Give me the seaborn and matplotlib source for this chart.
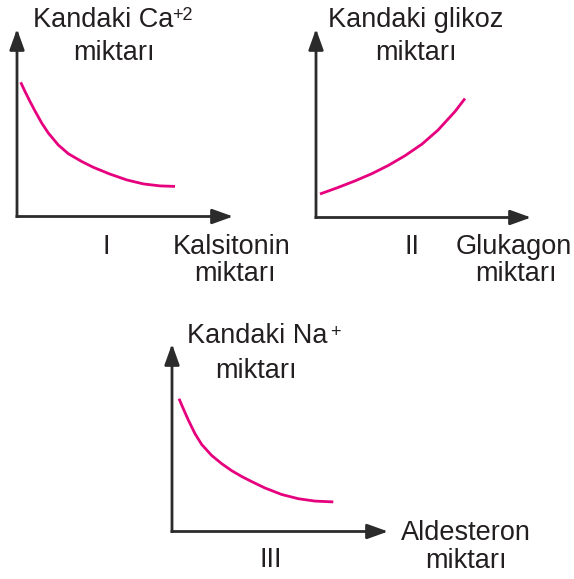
import matplotlib
matplotlib.use("Agg")
import matplotlib.pyplot as plt
import seaborn as sns
import pandas as pd

# ---- data (units: offset from each panel's origin) ----
# Panel I: Kalsitonin vs Ca+2
ca_x = [3.7, 8, 13, 18, 24.7, 31.3, 41.3, 51.3, 64.7, 76.3, 93, 109.7, 126.3, 143, 158]
ca_y = [134.2, 125.0, 115.0, 105.5, 93.5, 83.5, 71.5, 62.8, 55.0, 49.2, 42.4, 36.6, 32.6, 30.6, 30.1]
# Panel II: Glukagon vs glikoz
gl_x = [4, 22, 39, 56, 72, 89, 106, 122, 139, 149]
gl_y = [23.5, 30.0, 36.6, 43.9, 51.9, 61.8, 73.4, 87.4, 106, 119]
# Panel III: Aldesteron vs Na+
na_x = [7, 11.3, 16.3, 23, 29.7, 39.7, 49.7, 59.7, 69.7, 79.7, 93, 109.7, 126.3, 143, 161.3]
na_y = [132.8, 122.8, 111.5, 97.8, 87.0, 76.0, 67.8, 60.8, 55.0, 49.9, 43.5, 37.0, 32.8, 30.4, 29.6]

panel_labels = ["I", "II", "III"]
y_titles = ["Kandaki Ca", "Kandaki glikoz", "Kandaki Na"]
y_supers = ["+2", "", "+"]
x_titles = ["Kalsitonin", "Glukagon", "Aldesteron"]
unit_word = "miktarı"

W, H = 574, 579
sns.set_style("white")
plt.rcParams["font.family"] = ["Liberation Sans", "DejaVu Sans"]

TXT = "#231f20"
AX = "#2b2b2b"
CURVE = "#e6007e"
FS = 19.5

fig = plt.figure(figsize=(W / 100, H / 100), dpi=100)


def fx(px):
    return px / W


def fy(py):
    return 1 - py / H


def panel(ox, oy, xt, yt, xs, ys):
    ax = fig.add_axes([fx(ox), fy(oy), (xt - ox) / W, (oy - yt) / H])
    ax.set_xlim(0, xt - ox)
    ax.set_ylim(0, oy - yt)
    ax.axis("off")
    df = pd.DataFrame({"x": xs, "y": ys})
    sns.lineplot(data=df, x="x", y="y", ax=ax, color=CURVE, lw=2.0,
                 sort=False, estimator=None, solid_joinstyle="round",
                 solid_capstyle="butt")
    ap = dict(arrowstyle="-|>,head_length=1.25,head_width=0.45",
              mutation_scale=10, lw=2.0, color=AX, shrinkA=0, shrinkB=0,
              capstyle="projecting")
    ax.annotate("", xy=(xt - ox, 0), xytext=(0, 0), arrowprops=ap,
                annotation_clip=False)
    ax.annotate("", xy=(0, oy - yt), xytext=(0, 0), arrowprops=ap,
                annotation_clip=False)
    return ax


def t(px, py, s, ha="center", size=FS):
    fig.text(fx(px), fy(py), s, ha=ha, va="baseline", fontsize=size, color=TXT)


# Panel I
panel(17, 216.5, 233, 29, ca_x, ca_y)
t(33, 27, y_titles[0], ha="left")
t(172, 20, y_supers[0], ha="left", size=13)
t(114, 60, unit_word)
t(106, 254, panel_labels[0])
t(173, 254, x_titles[0], ha="left")
t(235, 281, unit_word)

# Panel II
panel(316, 217.5, 531, 29, gl_x, gl_y)
t(416, 27, y_titles[1])
t(416, 60, unit_word)
t(412, 254, panel_labels[1])
t(514, 254, x_titles[1])
t(516, 281, unit_word)

# Panel III
panel(172, 531.5, 388, 344, na_x, na_y)
t(187, 343, y_titles[2], ha="left")
t(330, 337, y_supers[2], ha="left", size=13)
t(256, 378, unit_word)
t(271, 567, panel_labels[2])
t(466, 540, x_titles[2])
t(466, 568, unit_word)

fig.savefig("out.png", dpi=100)
